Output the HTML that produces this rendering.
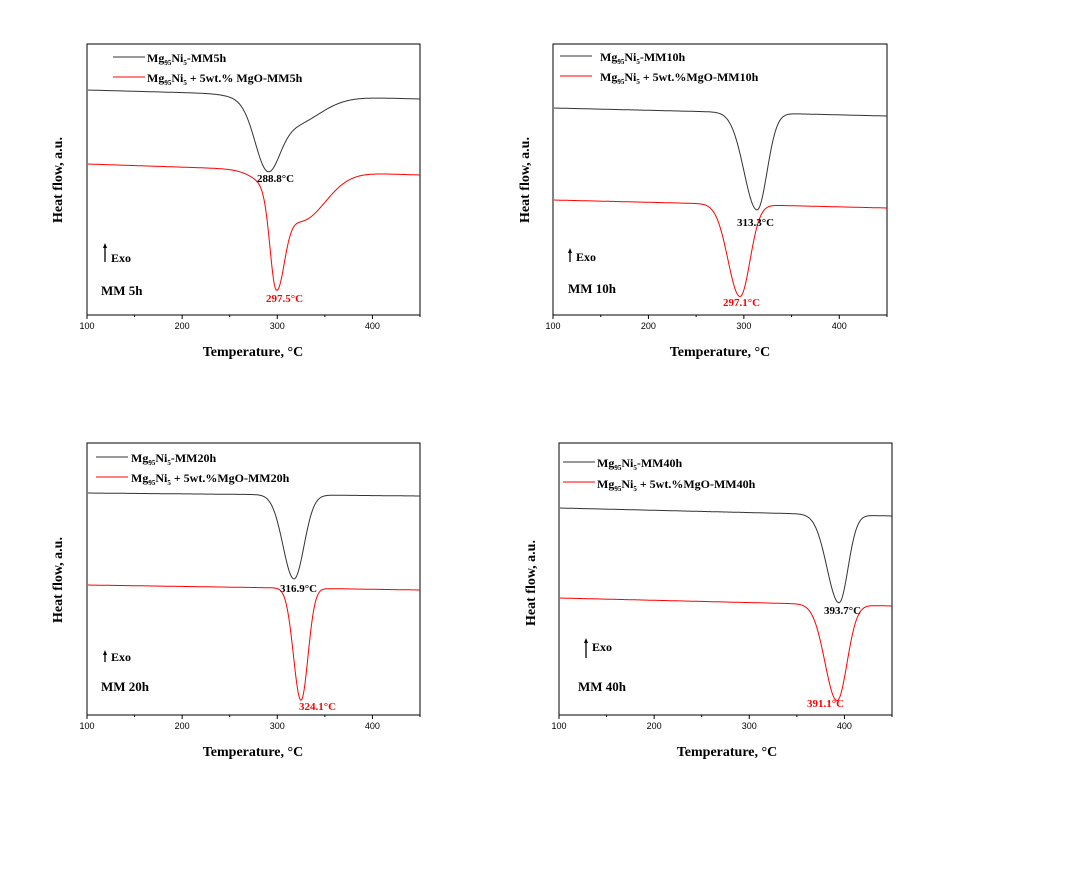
<!DOCTYPE html><html><head><meta charset="utf-8"><style>
body{margin:0;background:#fff}
svg text{font-family:"Liberation Serif",serif;font-weight:bold}
.t{font-family:"Liberation Sans",sans-serif;font-weight:normal;font-size:9px}
</style></head><body>
<svg id="s" width="1082" height="872" xmlns="http://www.w3.org/2000/svg">
<g id="g"></g>
<!-- P1 -->
<text x="147" y="62" font-size="12">Mg<tspan font-size="7" dy="3">95</tspan><tspan dy="-3">Ni</tspan><tspan font-size="7" dy="3">5</tspan><tspan dy="-3">-MM5h</tspan></text>
<text x="147" y="82" font-size="12">Mg<tspan font-size="7" dy="3">95</tspan><tspan dy="-3">Ni</tspan><tspan font-size="7" dy="3">5</tspan><tspan dy="-3"> + 5wt.% MgO-MM5h</tspan></text>
<text x="257" y="182" font-size="11">288.8°C</text>
<text x="266" y="302" font-size="11" fill="#f00">297.5°C</text>
<text x="111" y="262" font-size="12">Exo</text>
<text x="101" y="295" font-size="13">MM 5h</text>
<text x="253" y="356" font-size="14" text-anchor="middle">Temperature, °C</text>
<text transform="translate(62,180) rotate(-90)" font-size="14" text-anchor="middle">Heat flow, a.u.</text>
<!-- P2 -->
<text x="600" y="61" font-size="12">Mg<tspan font-size="7" dy="3">95</tspan><tspan dy="-3">Ni</tspan><tspan font-size="7" dy="3">5</tspan><tspan dy="-3">-MM10h</tspan></text>
<text x="600" y="81" font-size="12">Mg<tspan font-size="7" dy="3">95</tspan><tspan dy="-3">Ni</tspan><tspan font-size="7" dy="3">5</tspan><tspan dy="-3"> + 5wt.%MgO-MM10h</tspan></text>
<text x="737" y="226" font-size="11">313.3°C</text>
<text x="723" y="306" font-size="11" fill="#f00">297.1°C</text>
<text x="576" y="261" font-size="12">Exo</text>
<text x="568" y="293" font-size="13">MM 10h</text>
<text x="720" y="356" font-size="14" text-anchor="middle">Temperature, °C</text>
<text transform="translate(529,180) rotate(-90)" font-size="14" text-anchor="middle">Heat flow, a.u.</text>
<!-- P3 -->
<text x="131" y="462" font-size="12">Mg<tspan font-size="7" dy="3">95</tspan><tspan dy="-3">Ni</tspan><tspan font-size="7" dy="3">5</tspan><tspan dy="-3">-MM20h</tspan></text>
<text x="131" y="482" font-size="12">Mg<tspan font-size="7" dy="3">95</tspan><tspan dy="-3">Ni</tspan><tspan font-size="7" dy="3">5</tspan><tspan dy="-3"> + 5wt.%MgO-MM20h</tspan></text>
<text x="280" y="592" font-size="11">316.9°C</text>
<text x="299" y="710" font-size="11" fill="#f00">324.1°C</text>
<text x="111" y="661" font-size="12">Exo</text>
<text x="101" y="691" font-size="13">MM 20h</text>
<text x="253" y="756" font-size="14" text-anchor="middle">Temperature, °C</text>
<text transform="translate(62,580) rotate(-90)" font-size="14" text-anchor="middle">Heat flow, a.u.</text>
<!-- P4 -->
<text x="597" y="467" font-size="12">Mg<tspan font-size="7" dy="3">95</tspan><tspan dy="-3">Ni</tspan><tspan font-size="7" dy="3">5</tspan><tspan dy="-3">-MM40h</tspan></text>
<text x="597" y="488" font-size="12">Mg<tspan font-size="7" dy="3">95</tspan><tspan dy="-3">Ni</tspan><tspan font-size="7" dy="3">5</tspan><tspan dy="-3"> + 5wt.%MgO-MM40h</tspan></text>
<text x="824" y="614" font-size="11">393.7°C</text>
<text x="807" y="707" font-size="11" fill="#f00">391.1°C</text>
<text x="592" y="651" font-size="12">Exo</text>
<text x="578" y="691" font-size="13">MM 40h</text>
<text x="727" y="756" font-size="14" text-anchor="middle">Temperature, °C</text>
<text transform="translate(535,583) rotate(-90)" font-size="14" text-anchor="middle">Heat flow, a.u.</text>
<text class="t" x="87" y="329" text-anchor="middle">100</text>
</svg>
<script>
var g=document.getElementById('g'),NS='http://www.w3.org/2000/svg';
function el(t,a){var e=document.createElementNS(NS,t);for(var k in a)e.setAttribute(k,a[k]);g.appendChild(e);return e;}
function txt(x,y,s){var e=el('text',{x:x,y:y,'text-anchor':'middle','class':'t'});e.textContent=s;}
var P=[
 {x0:87,x1:420,y0:44,y1:315,lx:113,ly:57,arr:[105,243,262],
  c:[{col:'#333',a:90,b:99,d:[[267,55,12,12],[290,30,28,28]]},{col:'#f00',a:164,b:175,d:[[276,88,6,8],[300,50,25,25]]}]},
 {x0:553,x1:887,y0:44,y1:315,lx:560,ly:56,arr:[570,248,262],
  c:[{col:'#333',a:108,b:116,d:[[757,97,13,10]]},{col:'#f00',a:200,b:208,d:[[740,92,12,10]]}]},
 {x0:87,x1:420,y0:443,y1:715,lx:96,ly:457,arr:[105,650,662],
  c:[{col:'#333',a:493,b:496,d:[[294,84,11,10]]},{col:'#f00',a:585,b:590,d:[[301,112,7.5,7]]}]},
 {x0:559,x1:892,y0:443,y1:715,lx:563,ly:462,arr:[586,638,658],
  c:[{col:'#333',a:508,b:516,d:[[839,88,12,9]]},{col:'#f00',a:598,b:606,d:[[837,96,12,10]]}]}
];
P.forEach(function(p){
 var w=(p.x1-p.x0)/350;
 el('rect',{x:p.x0,y:p.y0,width:p.x1-p.x0,height:p.y1-p.y0,fill:'none',stroke:'#000','stroke-width':1});
 for(var t=100;t<=450;t+=50){var x=p.x0+(t-100)*w;el('line',{x1:x,x2:x,y1:p.y1,y2:p.y1+(t%100?2:4),stroke:'#000'});if(t%100==0&&!(p===P[0]&&t==100))txt(x,p.y1+14,t);}
 p.c.forEach(function(c,i){
  var d='';for(var x=p.x0+1;x<=p.x1;x+=0.5){var y=c.a+(c.b-c.a)*(x-p.x0)/(p.x1-p.x0);
   c.d.forEach(function(q){var s=x<q[0]?q[2]:q[3];y+=q[1]*Math.exp(-(x-q[0])*(x-q[0])/(2*s*s));});
   d+=(d?'L':'M')+x.toFixed(1)+' '+y.toFixed(1);}
  el('path',{d:d,fill:'none',stroke:c.col,'stroke-width':1});
  el('line',{x1:p.lx,x2:p.lx+32,y1:p.ly+i*20,y2:p.ly+i*20,stroke:c.col});
 });
 var a=p.arr;el('line',{x1:a[0],x2:a[0],y1:a[1]+3,y2:a[2],stroke:'#000','stroke-width':1.3});
 el('path',{d:'M'+(a[0]-2)+' '+(a[1]+5)+'L'+a[0]+' '+a[1]+'L'+(a[0]+2)+' '+(a[1]+5)+'Z',fill:'#000'});
});
</script>
</body></html>
